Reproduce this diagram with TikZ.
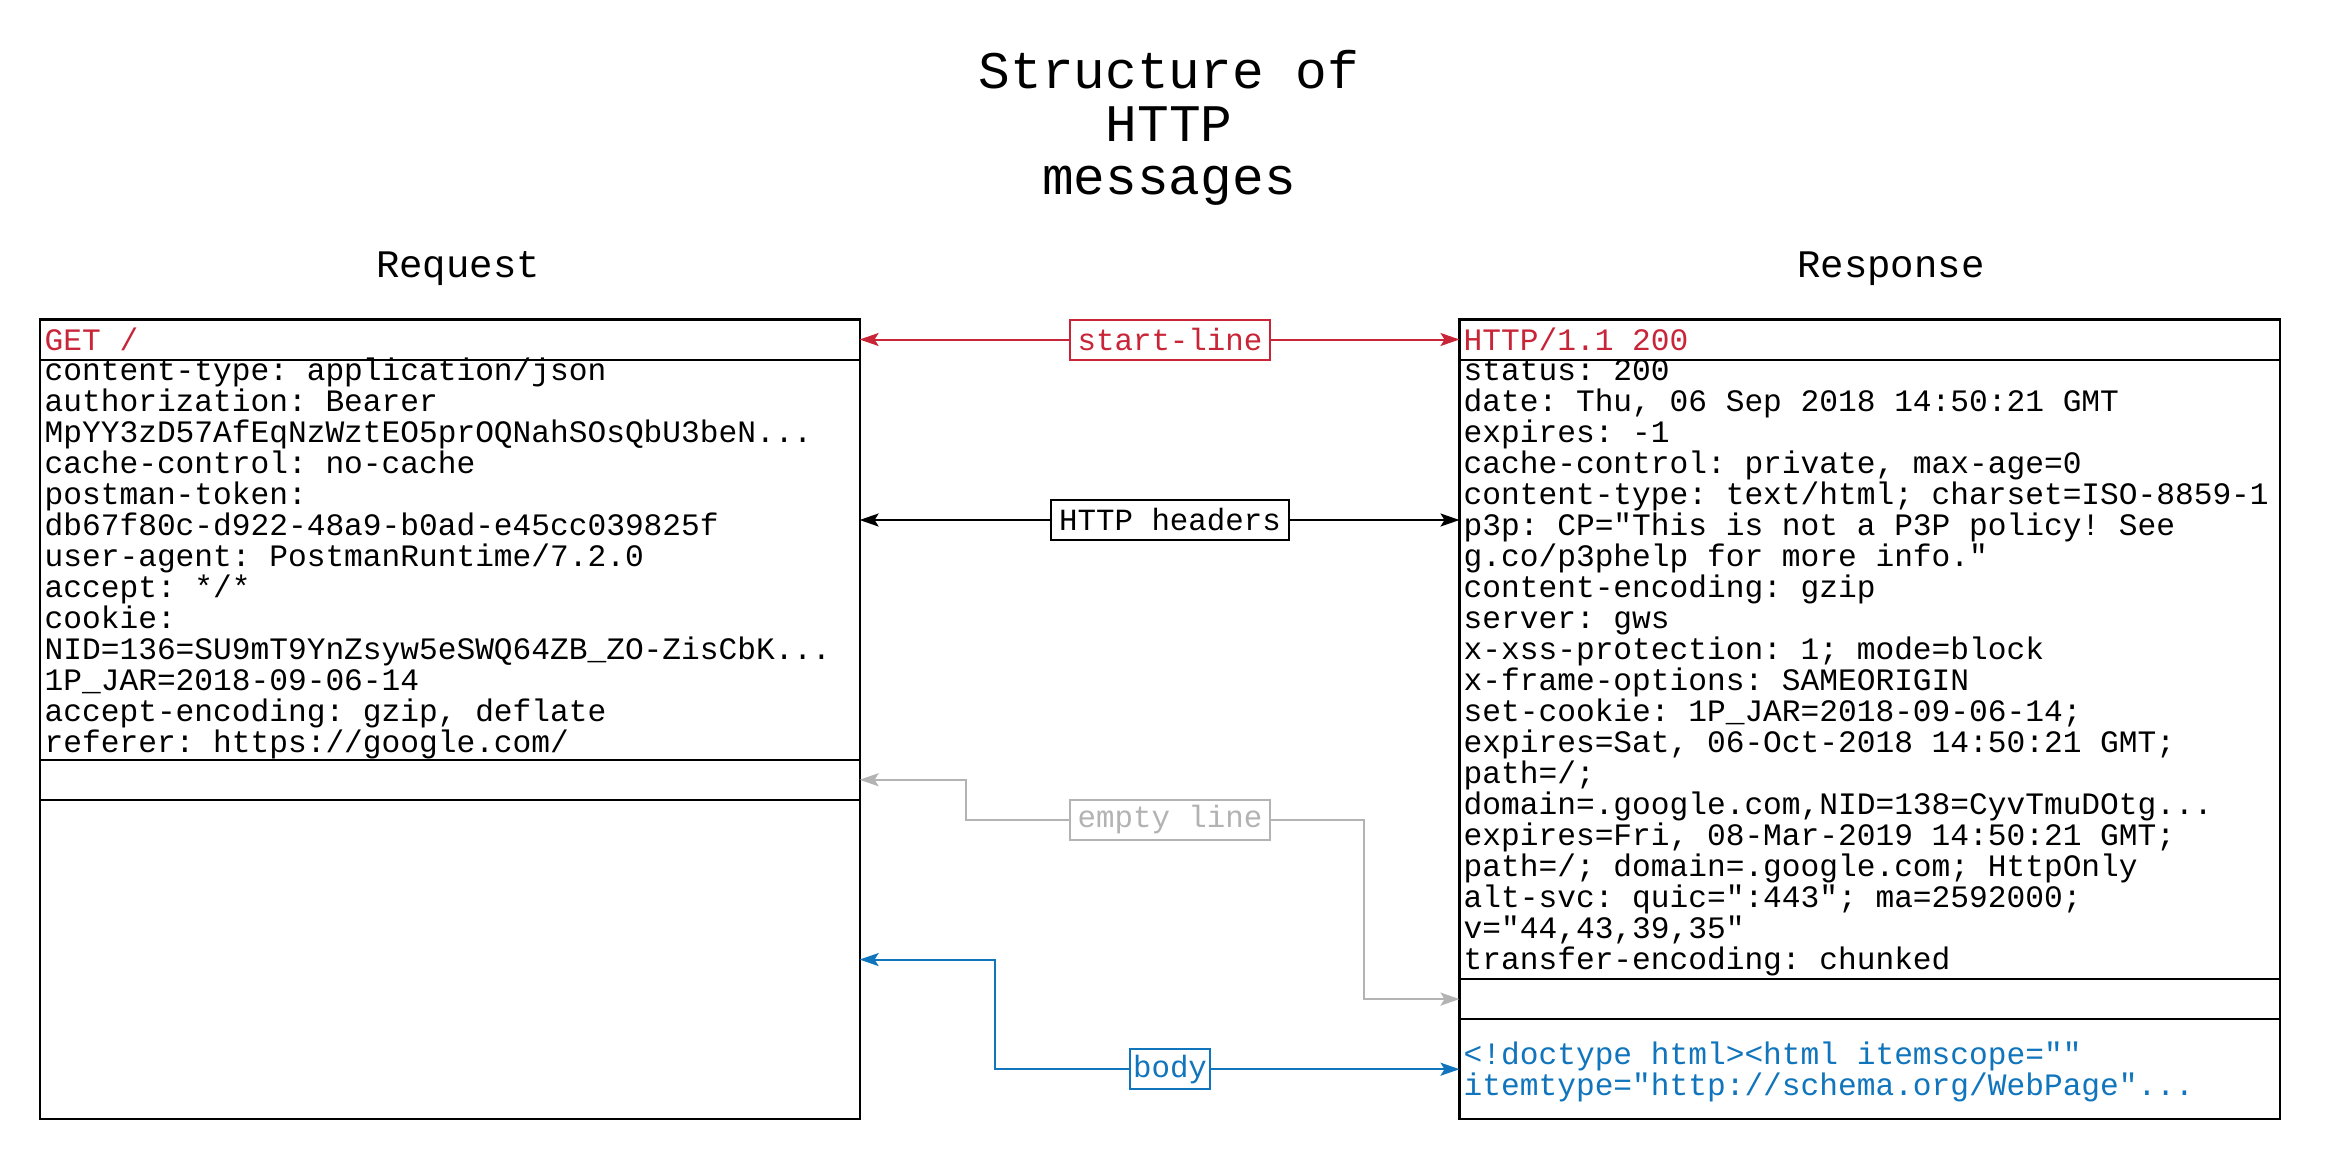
\documentclass[tikz,border=0pt]{standalone}
\usepackage{fontspec}
\setmonofont{Liberation Mono}
\usetikzlibrary{arrows.meta}
\definecolor{cred}{RGB}{200,38,56}
\definecolor{cblue}{RGB}{16,117,188}
\definecolor{cgray}{RGB}{179,179,179}
\newcommand\tdots{...}
\tikzset{
  rowbox/.style={draw=black, line width=2.2pt, inner sep=0pt, outer sep=0pt, rectangle},
  txt/.style={font=\ttfamily\fontsize{31.2}{31}\selectfont, inner sep=0pt, anchor=base west},
  lbl/.style={draw, fill=white, line width=2pt, inner sep=0pt, outer sep=0pt, minimum height=40pt, font=\ttfamily\fontsize{30.8}{31}\selectfont},
  conn/.style={line width=2pt, -{Stealth[length=19pt,width=13pt,inset=4pt]}},
  ttl/.style={font=\ttfamily\fontsize{52.8}{53}\selectfont, inner sep=0pt, anchor=base},
  hdr/.style={font=\ttfamily\fontsize{39}{40}\selectfont, inner sep=0pt, anchor=base}
}
\begin{document}
\begin{tikzpicture}[x=1pt,y=-1pt]
\useasboundingbox[fill=white] (0,0) rectangle (2340,1160);
% title
\node[ttl] (t1) at (1169,88) {Structure of};
\node[ttl] (t2) at (1169,141) {HTTP};
\node[ttl] (t3) at (1169,194) {messages};
\node[hdr] (req) at (458,277.5) {Request};
\node[hdr] (resp) at (1890.8,277.5) {Response};
% left box
\node[rowbox, minimum width=819.3pt, minimum height=40.2pt] (lstart) at (449.95,339.5) {};
\node[rowbox, minimum width=819.3pt, minimum height=400pt] (lhead) at (449.95,559.6) {};
\node[rowbox, minimum width=819.3pt, minimum height=40.3pt] (lempty) at (449.95,779.75) {};
\node[rowbox, minimum width=819.3pt, minimum height=319.3pt] (lbody) at (449.95,959.55) {};
% right box
\node[rowbox, minimum width=820.7pt, minimum height=40.2pt] (rstart) at (1869.85,339.5) {};
\node[rowbox, minimum width=820.7pt, minimum height=619.4pt] (rhead) at (1869.85,669.3) {};
\node[rowbox, minimum width=820.7pt, minimum height=40.2pt] (rempty) at (1869.85,999.1) {};
\node[rowbox, minimum width=820.7pt, minimum height=100pt] (rbody) at (1869.85,1069.2) {};
% texts
\node[txt, text=cred] (lget) at (44.5,350) {GET /};
\node[txt, text=cred] (rhttp) at (1463.5,350) {HTTP/1.1 200};
\foreach \t [count=\i] in {
 {content-type: application/json},
 {authorization: Bearer},
 {MpYY3zD57AfEqNzWztEO5prOQNahSOsQbU3beN\tdots},
 {cache-control: no-cache},
 {postman-token:},
 {db67f80c-d922-48a9-b0ad-e45cc039825f},
 {user-agent: PostmanRuntime/7.2.0},
 {accept: */*},
 {cookie:},
 {NID=136=SU9mT9YnZsyw5eSWQ64ZB\_ZO-ZisCbK\tdots},
 {1P\_JAR=2018-09-06-14},
 {accept-encoding: gzip, deflate},
 {referer: https://google.com/}}
 \node[txt] (lh\i) at (44.5,{349+31*\i}) {\t};
\foreach \t [count=\i] in {
 {status: 200},
 {date: Thu, 06 Sep 2018 14:50:21 GMT},
 {expires: -1},
 {cache-control: private, max-age=0},
 {content-type: text/html; charset=ISO-8859-1},
 {p3p: CP="This is not a P3P policy! See},
 {g.co/p3phelp for more info."},
 {content-encoding: gzip},
 {server: gws},
 {x-xss-protection: 1; mode=block},
 {x-frame-options: SAMEORIGIN},
 {set-cookie: 1P\_JAR=2018-09-06-14;},
 {expires=Sat, 06-Oct-2018 14:50:21 GMT;},
 {path=/;},
 {domain=.google.com,NID=138=CyvTmuDOtg\tdots},
 {expires=Fri, 08-Mar-2019 14:50:21 GMT;},
 {path=/; domain=.google.com; HttpOnly},
 {alt-svc: quic=":443"; ma=2592000;},
 {v="44,43,39,35"},
 {transfer-encoding: chunked}}
 \node[txt] (rh\i) at (1463.5,{349+31*\i}) {\t};
\node[txt, text=cblue] (rb1) at (1463.5,1064) {<!doctype html><html itemscope=""};
\node[txt, text=cblue] (rb2) at (1463.5,1095) {itemtype="http://schema.org/WebPage"\tdots};
% labels
\node[lbl, draw=cred, text=cred, minimum width=200pt] (lblstart) at (1170,339.5) {start-line};
\node[lbl, minimum width=238.7pt] (lblhead) at (1170,520) {HTTP headers};
\node[lbl, draw=cgray, text=cgray, minimum width=200pt] (lblempty) at (1170,819.6) {empty line};
\node[lbl, draw=cblue, text=cblue, minimum width=80.6pt] (lblbody) at (1170,1069.2) {body};
% connectors
\draw[conn, cred] (lblstart.west) -- (lstart.east);
\draw[conn, cred] (lblstart.east) -- (rstart.west);
\draw[conn] (lblhead.west) -- (lblhead.west -| lhead.east);
\draw[conn] (lblhead.east) -- (lblhead.east -| rhead.west);
\draw[conn, cgray] (lblempty.west) -- ++(-104.5,0) |- (lempty.east);
\draw[conn, cgray] (lblempty.east) -- ++(94,0) |- (rempty.west);
\draw[conn, cblue] (lblbody.west) -- ++(-134.3,0) |- (lbody.east);
\draw[conn, cblue] (lblbody.east) -- (rbody.west);
\end{tikzpicture}
\end{document}
